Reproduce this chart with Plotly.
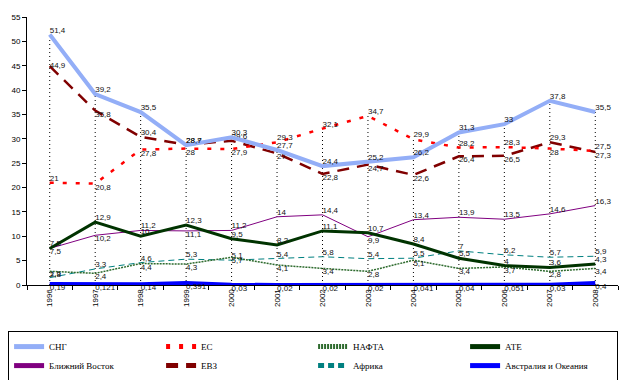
import plotly.graph_objects as go

years = ["1996", "1997", "1998", "1999", "2000", "2001", "2002",
         "2003", "2004", "2005", "2006", "2007", "2008"]

sng = [51.4, 39.2, 35.5, 28.7, 30.3, 27.7, 24.4, 25.2, 26.2, 31.3, 33.0, 37.8, 35.5]
es = [21.0, 20.8, 27.8, 28.0, 27.9, 29.3, 32.1, 34.7, 29.9, 28.2, 28.3, 28.0, 27.5]
evz = [44.9, 35.8, 30.4, 28.8, 29.6, 27.0, 22.8, 24.7, 22.6, 26.4, 26.5, 29.3, 27.3]
near_east = [7.5, 10.2, 11.2, 11.1, 11.2, 14.0, 14.4, 9.9, 13.4, 13.9, 13.5, 14.6, 16.3]
ate = [7.5, 12.9, 10.0, 12.3, 9.5, 8.2, 11.1, 10.7, 8.4, 5.5, 4.0, 3.6, 4.3]
nafta = [2.8, 2.4, 4.4, 4.3, 5.7, 4.1, 3.4, 2.8, 5.1, 3.4, 3.7, 2.8, 3.4]
africa = [1.5, 3.3, 4.6, 5.3, 5.1, 5.4, 5.8, 5.4, 5.5, 7.0, 6.2, 5.7, 5.9]
aus = [0.19, 0.121, 0.14, 0.391, 0.03, 0.02, 0.02, 0.02, 0.041, 0.04, 0.051, 0.03, 0.4]

y_ticks = [0, 5, 10, 15, 20, 25, 30, 35, 40, 45, 50, 55]


def lab(vals):
    return [("%g" % v).replace(".", ",") for v in vals]


TR, BR, MR = "top right", "bottom right", "middle right"
pos_es = [TR, BR, BR, BR, BR, TR, TR, TR, TR, TR, TR, BR, TR]
pos_evz = [MR, BR, TR, TR, TR, BR, BR, BR, BR, BR, BR, TR, BR]
pos_ne = [BR, BR, TR, BR, TR, TR, TR, BR, TR, TR, TR, TR, TR]

LABEL_FONT = dict(family="Liberation Sans", size=8, color="#111111")

series = [
    # name, values, color, width, dash, legend rank, text position
    ("Австралия и Океания", aus, "#0000FF", 4, "solid", 8, BR),
    ("Африка", africa, "#008080", 1, "6px,4px", 7, TR),
    ("НАФТА", nafta, "#2E6B2E", 1.5, "2px,1px", 3, BR),
    ("Ближний Восток", near_east, "#800080", 1, "solid", 5, pos_ne),
    ("АТЕ", ate, "#003300", 3, "solid", 4, TR),
    ("ЕВЗ", evz, "#800000", 2.5, "12px,8px", 6, pos_evz),
    ("ЕС", es, "#FF0000", 2.5, "4px,9px", 2, pos_es),
    ("СНГ", sng, "#93AEF7", 4, "solid", 1, TR),
]

fig = go.Figure()

# drop lines from the highest value of each year down to the axis
all_series = [sng, es, evz, near_east, ate, nafta, africa, aus]
dx, dy = [], []
for i, yr in enumerate(years):
    top = max(s[i] for s in all_series)
    dx += [yr, yr, None]
    dy += [0, top, None]
fig.add_trace(go.Scatter(x=dx, y=dy, mode="lines", showlegend=False,
                         line=dict(color="black", width=1, dash="1px,3px"),
                         hoverinfo="skip"))

for name, vals, color, width, dash, rank, tpos in series:
    fig.add_trace(go.Scatter(
        x=years, y=vals, name=name, mode="lines+text",
        text=lab(vals), textposition=tpos, textfont=LABEL_FONT,
        line=dict(color=color, width=width, dash=dash),
        legendrank=rank, cliponaxis=False,
    ))

fig.update_layout(
    width=624, height=372,
    margin=dict(l=19, r=14, t=9, b=95, autoexpand=False),
    paper_bgcolor="white", plot_bgcolor="white",
    font=dict(family="Liberation Sans", size=8, color="black"),
    showlegend=True,
    legend=dict(
        orientation="h", x=-0.032, y=-0.172, xanchor="left", yanchor="top",
        bordercolor="black", borderwidth=1, entrywidth=107,
        font=dict(family="Liberation Serif", size=9, color="black"),
        tracegroupgap=0, itemsizing="constant",
    ),
    xaxis=dict(
        type="category", range=[-0.5, 12.5], showgrid=False, automargin=False,
        showline=True, linecolor="black", linewidth=1,
        ticks="outside", tickson="boundaries", ticklen=4, tickcolor="black",
        tickangle=-90, tickfont=dict(size=8),
    ),
    yaxis=dict(
        range=[0, 55], tickvals=y_ticks, showgrid=False, zeroline=False,
        showline=True, linecolor="black", linewidth=1, automargin=False,
        ticks="outside", ticklen=4, tickcolor="black",
        tickfont=dict(size=8),
    ),
)

fig.write_html("out.html")
